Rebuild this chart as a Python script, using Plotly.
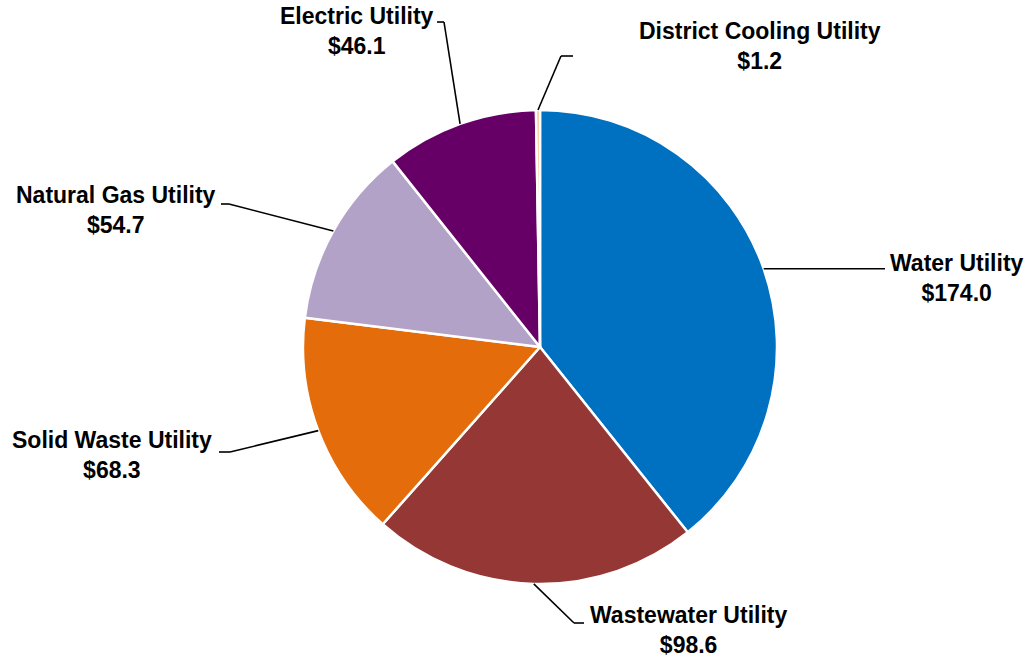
import math
import plotly.graph_objects as go

# Utility fund amounts (in $ millions), in clockwise order from 12 o'clock
utilities = ["Water Utility", "Wastewater Utility", "Solid Waste Utility",
             "Natural Gas Utility", "Electric Utility", "District Cooling Utility"]
amounts = [174.0, 98.6, 68.3, 54.7, 46.1, 1.2]
colors = ["#0070C0", "#953735", "#E46C0A", "#B3A2C7", "#660066", "#FAC090"]

W, H = 1036, 658
CX, CY, R = 540, 347, 237  # pie centre and radius in pixels

# label block centres and leader-line elbows (pixels)
label_pos = {
    "Water Utility": (957, 278),
    "Wastewater Utility": (688, 630),
    "Solid Waste Utility": (112, 455),
    "Natural Gas Utility": (116, 210),
    "Electric Utility": (357, 31),
    "District Cooling Utility": (760, 46),
}
elbows = {
    "Water Utility": [(885, None)],
    "Wastewater Utility": [(574, 623), (584, 623)],
    "Solid Waste Utility": [(230, 452), (219, 452)],
    "Natural Gas Utility": [(229, 204), (221, 204)],
    "Electric Utility": [(444, 22), (437, 22)],
    "District Cooling Utility": [(561, 56), (573, 56)],
}


def px(x, y):
    return x / W, 1 - y / H


fig = go.Figure(go.Pie(
    labels=utilities,
    values=amounts,
    sort=False,
    direction="clockwise",
    rotation=0,
    textinfo="none",
    hoverinfo="label+value",
    marker=dict(colors=colors, line=dict(color="white", width=2.5)),
    domain=dict(x=[(CX - R) / W, (CX + R) / W], y=[(H - CY - R) / H, (H - CY + R) / H]),
    showlegend=False,
))

total = sum(amounts)
shapes, annotations = [], []
cum = 0.0
for name, val in zip(utilities, amounts):
    mid = (cum + val / 2) / total * 2 * math.pi
    cum += val
    sx, sy = CX + R * math.sin(mid), CY - R * math.cos(mid)
    pts = [(sx, sy)]
    for ex, ey in elbows[name]:
        pts.append((ex, sy if ey is None else ey))
    for (x0, y0), (x1, y1) in zip(pts[:-1], pts[1:]):
        a0, b0 = px(x0, y0)
        a1, b1 = px(x1, y1)
        shapes.append(dict(type="line", xref="paper", yref="paper",
                           x0=a0, y0=b0, x1=a1, y1=b1,
                           line=dict(color="black", width=1.6)))
    lx, ly = label_pos[name]
    ax, ay = px(lx, ly)
    annotations.append(dict(
        xref="paper", yref="paper", x=ax, y=ay, xanchor="center", yanchor="middle",
        showarrow=False, align="center",
        text=f"<b>{name}</b><br><b>${val:.1f}</b>",
        font=dict(family="Liberation Sans, Arial, sans-serif", size=23, color="black"),
    ))

fig.update_layout(
    width=W, height=H,
    margin=dict(l=0, r=0, t=0, b=0),
    paper_bgcolor="white", plot_bgcolor="white",
    shapes=shapes, annotations=annotations,
)

fig.write_html("out.html")
